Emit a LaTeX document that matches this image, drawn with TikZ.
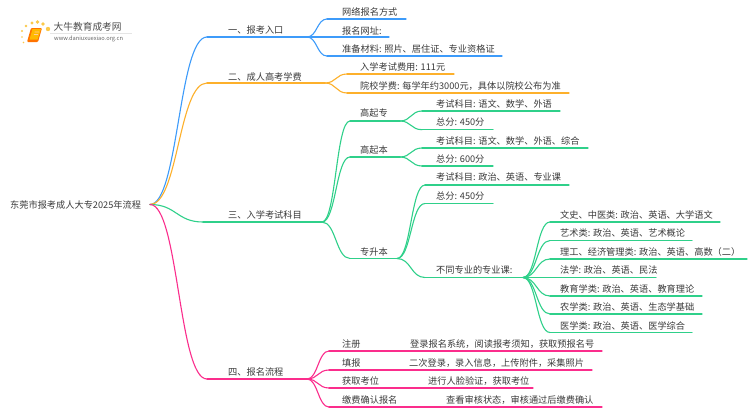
\documentclass[tikz,border=0pt]{standalone}
\usepackage{fontspec}
\usetikzlibrary{calc}
\setmainfont{Noto Sans CJK SC}
\definecolor{cb}{HTML}{3D9BFA}
\definecolor{co}{HTML}{FDB02B}
\definecolor{cg}{HTML}{2FD08A}
\definecolor{cp}{HTML}{FB2D8C}
\definecolor{ctext}{HTML}{3A3A3A}
\definecolor{dot}{HTML}{FBC94A}
\tikzset{
  lbl/.style={anchor=west,inner sep=0pt,text=ctext,font=\fontsize{9.2}{11}\selectfont},
  wire/.style={line width=1.1pt,line cap=round},
}
% name, x0, x1, y of line, text x, text y, colour, text
\newcommand{\branch}[8]{%
  \coordinate (#1-s) at (#2,#4);
  \coordinate (#1-e) at (#3,#4);
  \node[lbl] (#1) at (#5,#6) {#8};
  \draw[wire,#7] (#1-s) -- (#1-e);
}
\newcommand{\link}[3]{%
  \draw[wire,#3] let \p1=(#1),\p2=(#2),\n1={0.5*(\x2-\x1)} in
    (#1) .. controls (\x1+\n1,\y1) and (\x2-\n1,\y2) .. (#2);
}
\begin{document}
\begin{tikzpicture}[x=1pt,y=-1pt]
\useasboundingbox (0,0) rectangle (750,410);
\fill[white] (0,0) rectangle (750,410);
% logo
\fill[black!10] (50,33) rectangle (132,33.5);
\foreach \a/\b/\r in {22/31/1.1,26/26/1.3,32/23/1.7,37.5/22/1.8,43/24/1.9,48/29/2.2,22/37/.9,23.5/42.5/.8}
  \fill[dot] (\a,\b) circle (\r);
\fill[orange!90!red,rounded corners=1pt] (31,28) -- (42,28) -- (38,42) -- (27,42) -- cycle;
\fill[orange!55!yellow] (32.5,29) -- (41,29) -- (37.5,39.5) -- (29.5,39.5) -- cycle;
\fill[white!60!orange] (34.5,31.5) rectangle (39,32.3) (33.8,34) rectangle (38,34.8);
\node[lbl,text=black!70,font=\fontsize{9.7}{11}\selectfont] (logotitle) at (53.5,27) {大牛教育成考网};
\node[lbl,text=black!60,font=\fontsize{5.7}{6}\selectfont] (logourl) at (54,39) {www.daniuxuexiao.org.cn};
% root
\node[lbl] (root) at (10,205) {东莞市报考成人大专2025年流程};
\coordinate (hub) at (150,204.5);
% blue
\branch{a}{207}{307}{37}{228}{30.5}{cb}{一、报考入口}
\branch{a1}{327}{406}{19}{342}{12}{cb}{网络报名方式}
\branch{a2}{327}{389}{37}{342}{31}{cb}{报名网址:}
\branch{a3}{327}{502}{56}{342}{49.5}{cb}{准备材料: 照片、居住证、专业资格证}
\link{hub}{a-s}{cb}
\link{a-e}{a1-s}{cb}
\link{a-e}{a2-s}{cb}
\link{a-e}{a3-s}{cb}
% orange
\branch{b}{207}{325}{83}{228}{76.5}{co}{二、成人高考学费}
\branch{b1}{347}{454}{74}{360}{67}{co}{入学考试费用: 111元}
\branch{b2}{347}{569}{93}{360}{86}{co}{院校学费: 每学年约3000元，具体以院校公布为准}
\link{hub}{b-s}{co}
\link{b-e}{b1-s}{co}
\link{b-e}{b2-s}{co}
% green
\branch{c}{203}{322}{222}{228}{215}{cg}{三、入学考试科目}
\branch{c1}{350}{400}{121}{360}{113}{cg}{高起专}
\branch{c2}{350}{400}{157}{360}{150}{cg}{高起本}
\branch{c3}{350}{397}{258.5}{360}{252}{cg}{专升本}
\link{hub}{c-s}{cg}
\link{c-e}{c1-s}{cg}
\link{c-e}{c2-s}{cg}
\link{c-e}{c3-s}{cg}
\branch{c11}{422}{560}{111}{436}{104}{cg}{考试科目: 语文、数学、外语}
\branch{c12}{422}{493}{129.7}{436}{122}{cg}{总分: 450分}
\link{c1-e}{c11-s}{cg}
\link{c1-e}{c12-s}{cg}
\branch{c21}{422}{588}{148}{436}{141}{cg}{考试科目: 语文、数学、外语、综合}
\branch{c22}{422}{493}{166}{436}{159}{cg}{总分: 600分}
\link{c2-e}{c21-s}{cg}
\link{c2-e}{c22-s}{cg}
\branch{c31}{425}{569}{185}{436}{177.5}{cg}{考试科目: 政治、英语、专业课}
\branch{c32}{425}{493}{203.5}{436}{196}{cg}{总分: 450分}
\branch{c33}{425}{523}{277.5}{436}{270}{cg}{不同专业的专业课:}
\link{c3-e}{c31-s}{cg}
\link{c3-e}{c32-s}{cg}
\link{c3-e}{c33-s}{cg}
\branch{d1}{550}{720}{222}{560}{215}{cg}{文史、中医类: 政治、英语、大学语文}
\branch{d2}{550}{692}{240.5}{560}{233}{cg}{艺术类: 政治、英语、艺术概论}
\branch{d3}{550}{747}{259}{560}{252}{cg}{理工、经济管理类: 政治、英语、高数（二）}
\branch{d4}{550}{656}{277.5}{560}{270}{cg}{法学: 政治、英语、民法}
\branch{d5}{550}{702}{296}{560}{289}{cg}{教育学类: 政治、英语、教育理论}
\branch{d6}{550}{702}{314}{560}{307}{cg}{农学类: 政治、英语、生态学基础}
\branch{d7}{550}{692}{332.5}{560}{326}{cg}{医学类: 政治、英语、医学综合}
\foreach \k in {1,...,7} {\link{c33-e}{d\k-s}{cg}}
% pink
\branch{e}{207}{307}{379}{228}{372}{cp}{四、报名流程}
\link{hub}{e-s}{cp}
\branch{e1}{329}{602}{351}{342}{344}{cp}{注册}
\branch{e2}{329}{592}{370}{342}{363}{cp}{填报}
\branch{e3}{329}{533}{388}{342}{381}{cp}{获取考位}
\branch{e4}{329}{602}{407}{342}{400}{cp}{缴费确认报名}
\node[lbl] (e1t) at (410,344) {登录报名系统，阅读报考须知，获取预报名号};
\node[lbl] (e2t) at (409,363) {二次登录，录入信息，上传附件，采集照片};
\node[lbl] (e3t) at (428,381) {进行人脸验证，获取考位};
\node[lbl] (e4t) at (446,400) {查看审核状态，审核通过后缴费确认};
\foreach \k in {1,...,4} {\link{e-e}{e\k-s}{cp}}
\end{tikzpicture}
\end{document}
